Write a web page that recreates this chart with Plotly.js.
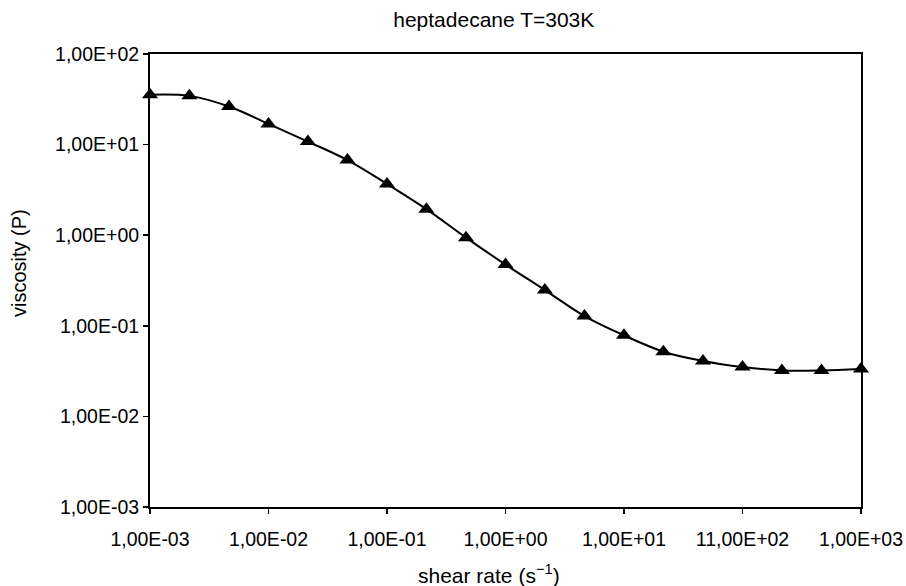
<!DOCTYPE html>
<html>
<head>
<meta charset="utf-8">
<script src="https://cdn.plot.ly/plotly-3.0.1.min.js"></script>
<style>html,body{margin:0;padding:0;background:#fff;}#chart{width:906px;height:586px;}</style>
</head>
<body>
<div id="chart"></div>
<script>
// shear rate (s^-1)
var shearRate = [0.001, 0.00215, 0.00464, 0.01, 0.0215, 0.0464, 0.1, 0.215, 0.464, 1, 2.15, 4.64, 10, 21.5, 46.4, 100, 215, 464, 1000];
// viscosity (P)
var viscosity = [35.5, 34.5, 26.3, 16.9, 10.8, 6.75, 3.68, 1.94, 0.94, 0.474, 0.248, 0.128, 0.0784, 0.0518, 0.0409, 0.0351, 0.0321, 0.0321, 0.0333];

var xTickVals = [0.001, 0.01, 0.1, 1, 10, 100, 1000];
var xTickText = ["1,00E-03", "1,00E-02", "1,00E-01", "1,00E+00", "1,00E+01", "11,00E+02", "1,00E+03"];
var yTickVals = [0.001, 0.01, 0.1, 1, 10, 100];
var yTickText = ["1,00E-03", "1,00E-02", "1,00E-01", "1,00E+00", "1,00E+01", "1,00E+02"];

var titleText = "heptadecane T=303K";
var xTitleText = "shear rate (s<sup>−1</sup>)";
var yTitleText = "viscosity (P)";

var font = "Liberation Sans, Arial, sans-serif";

var traces = [{
  x: shearRate,
  y: viscosity,
  type: "scatter",
  mode: "lines+markers",
  line: {color: "#000", width: 2, shape: "spline", smoothing: 1},
  marker: {symbol: "triangle-up", size: 14, color: "#000"},
  cliponaxis: false,
  showlegend: false
}];

var layout = {
  width: 906, height: 586,
  margin: {l: 150, r: 45, t: 54, b: 79},
  paper_bgcolor: "#fff", plot_bgcolor: "#fff",
  font: {family: font, color: "#000", size: 19.5},
  title: {text: titleText, font: {family: font, size: 21, color: "#000"}, x: 0.545, xanchor: "center", y: 0.967, yanchor: "middle"},
  xaxis: {
    type: "log", range: [-3, 3],
    tickmode: "array", tickvals: xTickVals, ticktext: xTickText,
    ticks: "outside", ticklen: 5, tickwidth: 1.5, tickcolor: "#000",
    ticklabelstandoff: 9,
    showline: true, linecolor: "#000", linewidth: 2, mirror: true,
    showgrid: false, zeroline: false,
    tickfont: {size: 19.5, family: font}
  },
  yaxis: {
    type: "log", range: [-3, 2],
    tickmode: "array", tickvals: yTickVals, ticktext: yTickText,
    ticks: "outside", ticklen: 5, tickwidth: 1.5, tickcolor: "#000",
    showline: true, linecolor: "#000", linewidth: 2, mirror: true,
    showgrid: false, zeroline: false,
    tickfont: {size: 19.5, family: font}
  },
  annotations: [
    {text: xTitleText, xref: "paper", yref: "paper", x: 0.477, y: -0.148, xanchor: "center", yanchor: "middle",
     showarrow: false, font: {family: font, size: 21, color: "#000"}},
    {text: yTitleText, xref: "paper", yref: "paper", x: -0.184, y: 0.539, xanchor: "center", yanchor: "middle",
     textangle: -90, showarrow: false, font: {family: font, size: 20, color: "#000"}}
  ]
};

Plotly.newPlot("chart", traces, layout, {displayModeBar: false, staticPlot: true});
</script>
</body>
</html>
